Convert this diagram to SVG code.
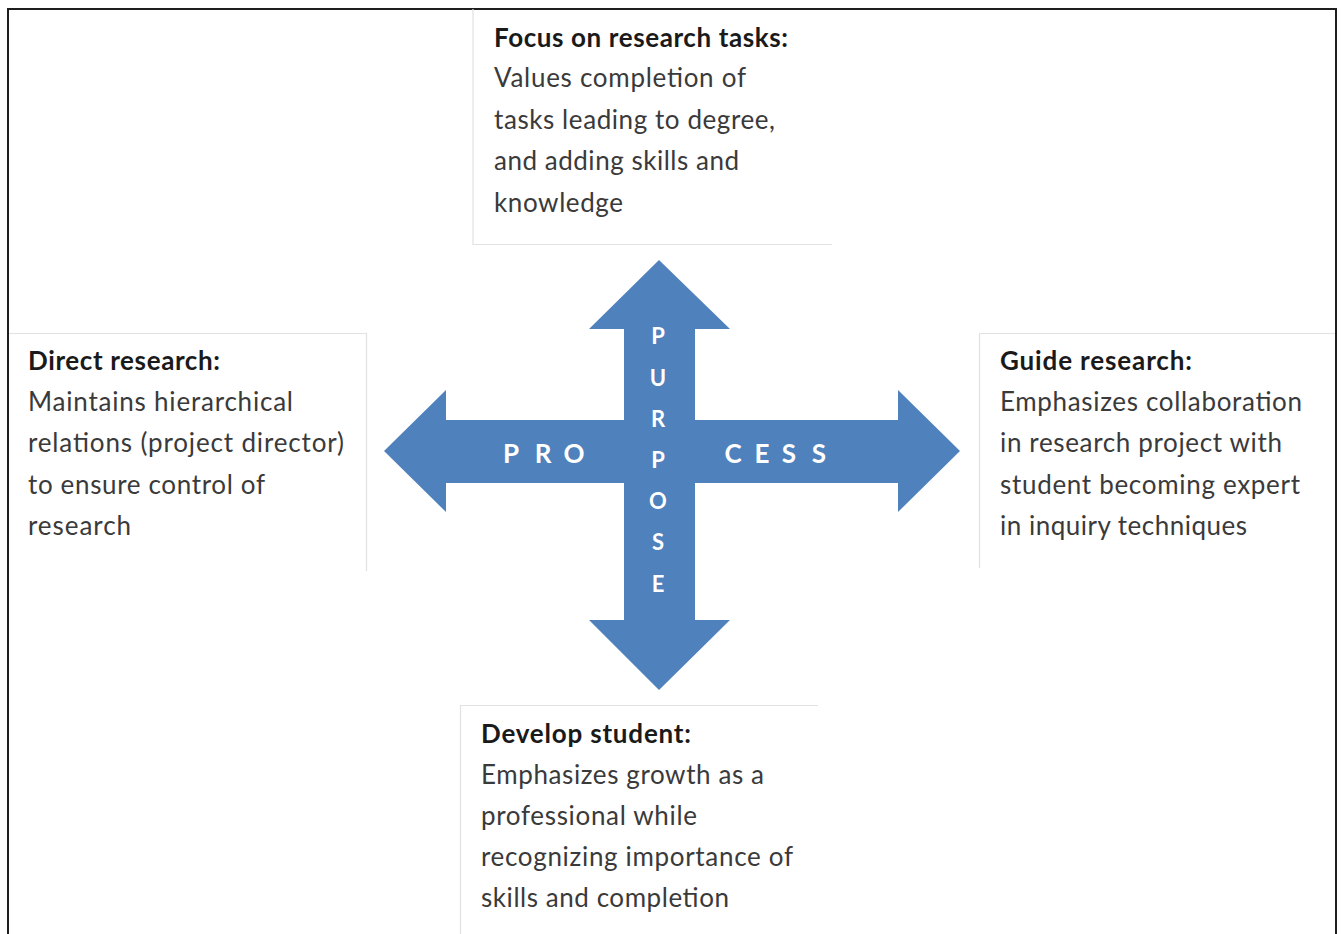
<svg xmlns="http://www.w3.org/2000/svg" width="1343" height="934" viewBox="0 0 1343 934">
<style>
.frame{fill:none;stroke:#1e1e1e;stroke-width:2}
.box{fill:none;stroke:#e2e2e2;stroke-width:1.2}
.h{font-family:Lato,"Liberation Sans",sans-serif;font-size:26px;font-weight:bold;fill:#1a1a1a}
.b{font-family:Lato,"Liberation Sans",sans-serif;font-size:26px;fill:#3a3a3a}
.arrow{fill:#4f81bd}
.al{font-family:Lato,"Liberation Sans",sans-serif;font-weight:bold;fill:#ffffff;text-anchor:middle}
.hl{font-size:26px}
.vl{font-size:22px}
</style>
<rect width="1343" height="934" fill="#ffffff"/>
<path class="frame" d="M8,934 V9 H1336 V934"/>

<g id="connectors">
<path class="arrow" d="M659,260 L730,329 L695,329 L695,420 L898,420 L898,390 L960,451 L898,512 L898,483 L695,483 L695,620 L730,620 L659,690 L589,620 L624,620 L624,483 L446,483 L446,512 L384,451 L446,390 L446,420 L624,420 L624,329 L589,329 Z"/>
<g class="al hl">
<text x="511" y="463">P</text>
<text x="543" y="463">R</text>
<text x="574" y="463">O</text>
<text x="733" y="463">C</text>
<text x="762" y="463">E</text>
<text x="789" y="463">S</text>
<text x="819" y="463">S</text>
</g>
<g class="al vl">
<text x="658" y="344">P</text>
<text x="658" y="386">U</text>
<text x="658" y="427">R</text>
<text x="658" y="468">P</text>
<text x="658" y="509">O</text>
<text x="658" y="550">S</text>
<text x="658" y="592">E</text>
</g>
</g>

<g id="node-top">
<path class="box" d="M473,9 V244.5 H832"/>
<text class="h" x="494" y="47" textLength="294">Focus on research tasks:</text>
<text class="b" x="494" y="87" textLength="252">Values completion of</text>
<text class="b" x="494" y="129" textLength="281">tasks leading to degree,</text>
<text class="b" x="494" y="170" textLength="245">and adding skills and</text>
<text class="b" x="494" y="212" textLength="129">knowledge</text>
</g>

<g id="node-left">
<path class="box" d="M9,333.5 H366.5 V571"/>
<text class="h" x="28" y="370" textLength="192">Direct research:</text>
<text class="b" x="28" y="411" textLength="265">Maintains hierarchical</text>
<text class="b" x="28" y="452" textLength="316">relations (project director)</text>
<text class="b" x="28" y="494" textLength="237">to ensure control of</text>
<text class="b" x="28" y="535" textLength="103">research</text>
</g>

<g id="node-right">
<path class="box" d="M1335,333.5 H979.5 V568"/>
<text class="h" x="1000" y="370" textLength="192">Guide research:</text>
<text class="b" x="1000" y="411" textLength="302">Emphasizes collaboration</text>
<text class="b" x="1000" y="452" textLength="282">in research project with</text>
<text class="b" x="1000" y="494" textLength="300">student becoming expert</text>
<text class="b" x="1000" y="535" textLength="247">in inquiry techniques</text>
</g>

<g id="node-bottom">
<path class="box" d="M818,705.5 H460.5 V934"/>
<text class="h" x="481" y="743" textLength="210">Develop student:</text>
<text class="b" x="481" y="784" textLength="283">Emphasizes growth as a</text>
<text class="b" x="481" y="825" textLength="216">professional while</text>
<text class="b" x="481" y="866" textLength="312">recognizing importance of</text>
<text class="b" x="481" y="907" textLength="248">skills and completion</text>
</g>
</svg>
